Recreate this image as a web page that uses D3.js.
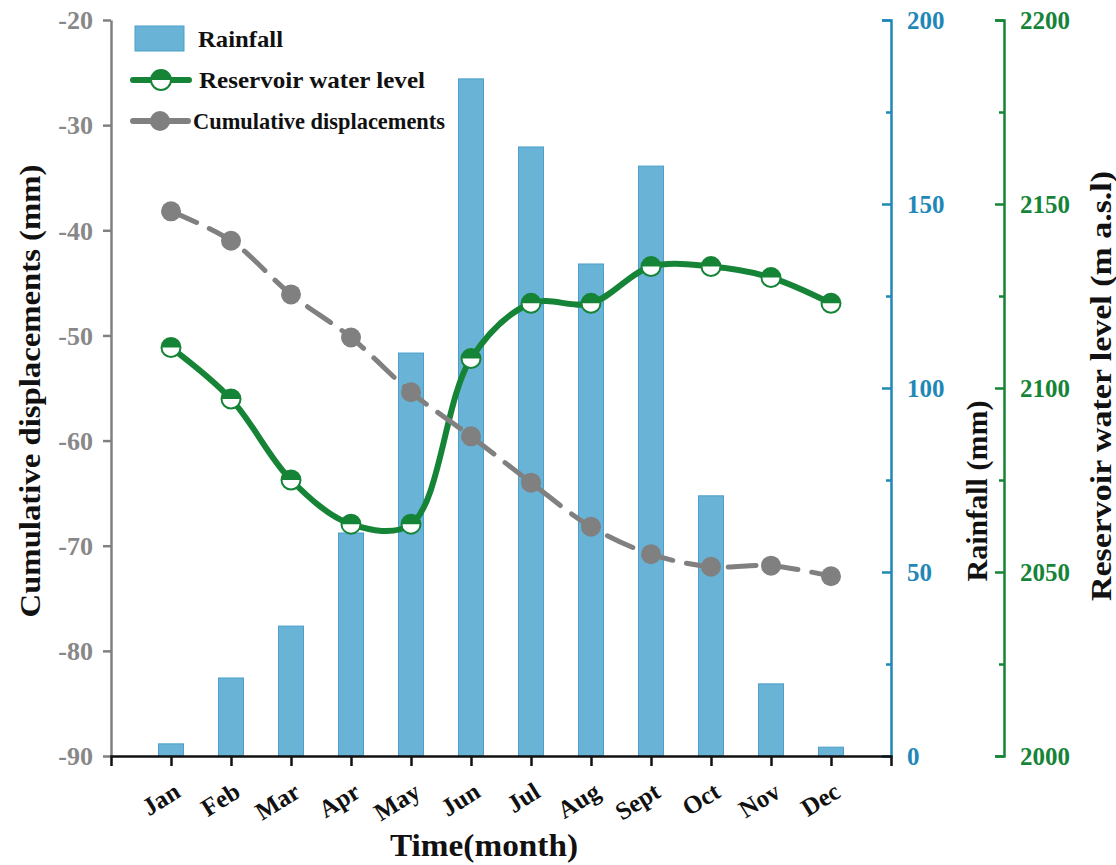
<!DOCTYPE html>
<html>
<head>
<meta charset="utf-8">
<script src="https://cdn.jsdelivr.net/npm/d3@7"></script>
<style>
  html, body { margin: 0; padding: 0; background: #fff; }
  svg { display: block; font-family: "Liberation Serif", "Times New Roman", serif; font-weight: bold; }
</style>
</head>
<body>
<svg id="chart" width="1116" height="865"></svg>
<script>
// Monthly series
const months = ["Jan", "Feb", "Mar", "Apr", "May", "Jun", "Jul", "Aug", "Sept", "Oct", "Nov", "Dec"];
const rainfall = [3.3, 21.2, 35.3, 60.6, 109.5, 184, 165.5, 133.7, 160.3, 70.7, 19.6, 2.4];
const waterLevel = [2111, 2097, 2075, 2063, 2063, 2108, 2123, 2123, 2133, 2133, 2130, 2123];
const displacement = [-38.2, -41.0, -46.1, -50.2, -55.4, -59.6, -64.0, -68.2, -70.8, -72.0, -71.9, -72.9];

// Axis ticks
const dispTicks = [-90, -80, -70, -60, -50, -40, -30, -20];
const rainTicks = [0, 50, 100, 150, 200];
const rainMinor = [25, 75, 125, 175];
const levelTicks = [2000, 2050, 2100, 2150, 2200];
const levelMinor = [2025, 2075, 2125, 2175];

const C = {
  bar: "#69b3d6", barEdge: "#4b9fc9",
  green: "#168437", grey: "#808080", tickGrey: "#888",
  blue: "#1f88b7", black: "#111"
};

const plain = d => String(d);   // "-20", "2200": ASCII minus, no grouping

const svg = d3.select("#chart");
const plotLeft = 111, plotRight = 891, plotTop = 20, plotBottom = 756;

const x = d3.scalePoint().domain(months).range([plotLeft, plotRight]).padding(1);
const yDisp = d3.scaleLinear().domain([-90, -20]).range([plotBottom, plotTop]);
const yRain = d3.scaleLinear().domain([0, 200]).range([plotBottom, plotTop]);
const yLevel = d3.scaleLinear().domain([2000, 2200]).range([plotBottom, plotTop]);

// Rainfall bars
const barW = 25;
svg.append("g").selectAll("rect").data(rainfall).join("rect")
  .attr("x", (d, i) => x(months[i]) - barW / 2)
  .attr("y", d => yRain(d))
  .attr("width", barW)
  .attr("height", d => yRain(0) - yRain(d))
  .attr("fill", C.bar).attr("stroke", C.barEdge).attr("stroke-width", 1);

// Left axis: cumulative displacements
const gL = svg.append("g").attr("transform", `translate(${plotLeft},0)`)
  .call(d3.axisLeft(yDisp).tickValues(dispTicks).tickFormat(plain)
    .tickSizeInner(8).tickSizeOuter(0).tickPadding(10));
gL.attr("font-family", null);
gL.select(".domain").attr("stroke", C.grey).attr("stroke-width", 2.5);
gL.selectAll(".tick line").attr("stroke", C.grey).attr("stroke-width", 2.5);
gL.selectAll(".tick text").attr("fill", C.tickGrey).attr("font-size", 26).attr("dy", "0.34em");

// Right-hand axes: ticks point inward, labels outside
function rightAxis(xPos, scale, major, minor, color) {
  const g = svg.append("g").attr("transform", `translate(${xPos},0)`);
  g.call(d3.axisRight(scale).tickValues(major).tickFormat(plain)
    .tickSizeInner(-9).tickSizeOuter(-9).tickPadding(16));
  g.attr("font-family", null);
  g.select(".domain").attr("stroke", color).attr("stroke-width", 2.5);
  g.selectAll(".tick line").attr("stroke", color).attr("stroke-width", 2.5);
  g.selectAll(".tick text").attr("fill", color).attr("font-size", 25).attr("dy", "0.34em");
  const gm = svg.append("g").attr("transform", `translate(${xPos},0)`);
  gm.call(d3.axisRight(scale).tickValues(minor).tickSize(-5).tickFormat(""));
  gm.select(".domain").remove();
  gm.selectAll(".tick line").attr("stroke", color).attr("stroke-width", 2.5);
  return g;
}
rightAxis(plotRight, yRain, rainTicks, rainMinor, C.blue);
rightAxis(1004, yLevel, levelTicks, levelMinor, C.green);

// Bottom axis: months
const gB = svg.append("g").attr("transform", `translate(0,${plotBottom})`)
  .call(d3.axisBottom(x).tickSizeInner(10).tickSizeOuter(10).tickFormat(""));
gB.select(".domain").attr("stroke", C.black).attr("stroke-width", 2.5);
gB.selectAll(".tick line").attr("stroke", C.black).attr("stroke-width", 2.5);
svg.append("g").selectAll("text").data(months).join("text")
  .attr("transform", d => `translate(${x(d) + 11},${plotBottom + 40}) rotate(-32)`)
  .attr("text-anchor", "end").attr("font-size", 25).attr("fill", C.black)
  .text(d => d);

// Reservoir water level (smooth curve)
const lineLevel = d3.line().x((d, i) => x(months[i])).y(d => yLevel(d)).curve(d3.curveCatmullRom.alpha(0.5));
svg.append("path").datum(waterLevel).attr("d", lineLevel)
  .attr("fill", "none").attr("stroke", C.green).attr("stroke-width", 6).attr("stroke-linecap", "round");

// Cumulative displacements (dashed curve)
const lineDisp = d3.line().x((d, i) => x(months[i])).y(d => yDisp(d)).curve(d3.curveCatmullRom.alpha(0.5));
svg.append("path").datum(displacement).attr("d", lineDisp)
  .attr("fill", "none").attr("stroke", C.grey).attr("stroke-width", 5)
  .attr("stroke-dasharray", "28,14").attr("stroke-linecap", "round");

// Half-filled marker for water level
function halfMarker(g, cx, cy, r) {
  g.append("circle").attr("cx", cx).attr("cy", cy).attr("r", r).attr("fill", "#fff");
  g.append("path")
    .attr("d", `M${cx - r},${cy} A${r},${r} 0 0 1 ${cx + r},${cy} Z`)
    .attr("fill", C.green);
  g.append("circle").attr("cx", cx).attr("cy", cy).attr("r", r)
    .attr("fill", "none").attr("stroke", C.green).attr("stroke-width", 2);
}
const gM = svg.append("g");
waterLevel.forEach((d, i) => halfMarker(gM, x(months[i]), yLevel(d), 9.5));

svg.append("g").selectAll("circle").data(displacement).join("circle")
  .attr("cx", (d, i) => x(months[i])).attr("cy", d => yDisp(d)).attr("r", 10)
  .attr("fill", C.grey);

// Legend
const lg = svg.append("g");
lg.append("rect").attr("x", 135).attr("y", 26).attr("width", 49).attr("height", 25)
  .attr("fill", C.bar).attr("stroke", C.barEdge);
lg.append("text").attr("x", 198).attr("y", 47).attr("font-size", 24).attr("fill", C.black)
  .attr("textLength", 85).attr("lengthAdjust", "spacingAndGlyphs").text("Rainfall");
lg.append("line").attr("x1", 133).attr("x2", 189).attr("y1", 80).attr("y2", 80)
  .attr("stroke", C.green).attr("stroke-width", 6).attr("stroke-linecap", "round");
halfMarker(lg, 161, 80, 10);
lg.append("text").attr("x", 199).attr("y", 88).attr("font-size", 24).attr("fill", C.black)
  .attr("textLength", 226).attr("lengthAdjust", "spacingAndGlyphs").text("Reservoir water level");
lg.append("line").attr("x1", 133).attr("x2", 188).attr("y1", 121).attr("y2", 121)
  .attr("stroke", C.grey).attr("stroke-width", 6).attr("stroke-linecap", "round");
lg.append("circle").attr("cx", 160).attr("cy", 121).attr("r", 10).attr("fill", C.grey);
lg.append("text").attr("x", 193).attr("y", 129).attr("font-size", 24).attr("fill", C.black)
  .attr("textLength", 252).attr("lengthAdjust", "spacingAndGlyphs").text("Cumulative displacements");

// Axis titles
svg.append("text").attr("transform", "translate(40,391) rotate(-90)")
  .attr("text-anchor", "middle").attr("font-size", 30).attr("fill", C.black)
  .attr("textLength", 453).attr("lengthAdjust", "spacingAndGlyphs")
  .text("Cumulative displacements (mm)");
svg.append("text").attr("transform", "translate(987,491) rotate(-90)")
  .attr("text-anchor", "middle").attr("font-size", 30).attr("fill", C.black)
  .text("Rainfall (mm)");
svg.append("text").attr("transform", "translate(1111,386) rotate(-90)")
  .attr("text-anchor", "middle").attr("font-size", 30).attr("fill", C.black)
  .attr("textLength", 430).attr("lengthAdjust", "spacingAndGlyphs")
  .text("Reservoir water level (m a.s.l)");
svg.append("text").attr("x", 484).attr("y", 856)
  .attr("text-anchor", "middle").attr("font-size", 32).attr("fill", C.black)
  .attr("textLength", 188).attr("lengthAdjust", "spacingAndGlyphs")
  .text("Time(month)");
</script>
</body>
</html>
